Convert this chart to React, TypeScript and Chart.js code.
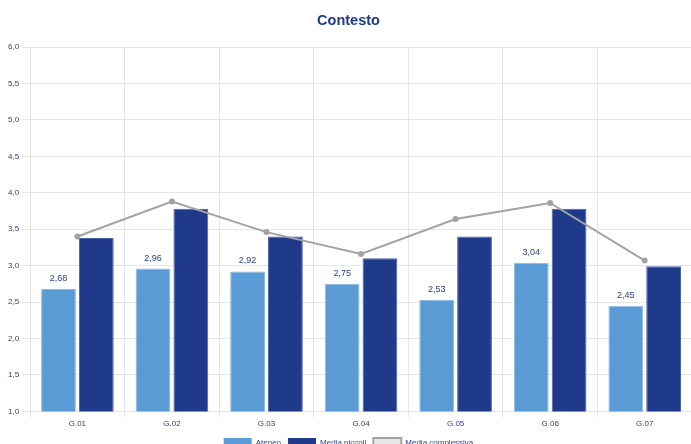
import React, { useEffect, useRef } from "react";
import { Chart, registerables } from "chart.js";

Chart.register(...registerables);

const categories = ["G.01", "G.02", "G.03", "G.04", "G.05", "G.06", "G.07"];
const ateneo = [2.68, 2.96, 2.92, 2.75, 2.53, 3.04, 2.45];
const mediaPiccoli = [3.38, 3.78, 3.4, 3.1, 3.4, 3.78, 2.99];
const mediaComplessiva = [3.4, 3.88, 3.46, 3.16, 3.64, 3.86, 3.07];

const FONT = "'Liberation Sans', Arial, sans-serif";
const fmt = (v: number, d: number) => v.toFixed(d).replace(".", ",");

const labelPlugin = {
  id: "ateneoLabels",
  afterDatasetsDraw(chart: any) {
    const meta = chart.getDatasetMeta(1);
    const ctx = chart.ctx;
    ctx.save();
    ctx.font = "9px " + FONT;
    ctx.fillStyle = "#2a3f85";
    ctx.textAlign = "center";
    ctx.textBaseline = "bottom";
    meta.data.forEach((el: any, i: number) => {
      ctx.fillText(fmt(ateneo[i], 2), el.x, el.y - 6);
    });
    ctx.restore();
  },
};

export default function App() {
  const ref = useRef<HTMLCanvasElement>(null);
  useEffect(() => {
    if (!ref.current) return;
    const chart = new Chart(ref.current, {
      type: "bar",
      data: {
        labels: categories,
        datasets: [
          {
            type: "line",
            label: "Media complessiva",
            data: mediaComplessiva,
            borderColor: "#a3a3a3",
            backgroundColor: "#e6e6e6",
            borderWidth: 2,
            pointRadius: 2,
            pointBackgroundColor: "#a3a3a3",
            pointBorderColor: "#a3a3a3",
            order: 0,
          } as any,
          {
            label: "Ateneo",
            data: ateneo,
            backgroundColor: "#5b9bd5",
            borderColor: "#8fbbe6",
            borderWidth: 1,
            order: 1,
          },
          {
            label: "Media piccoli",
            data: mediaPiccoli,
            backgroundColor: "#1f3a8a",
            borderColor: "#4a62a8",
            borderWidth: 1,
            order: 2,
          },
        ],
      },
      options: {
        animation: false,
        responsive: false,
        maintainAspectRatio: false,
        layout: { padding: { left: 5, right: 14, top: 0, bottom: 0 } },
        datasets: { bar: { categoryPercentage: 0.8, barPercentage: 0.92 } } as any,
        plugins: {
          title: {
            display: true,
            text: "Contesto",
            color: "#1f3a8a",
            font: { family: FONT, size: 14.5, weight: "bold" },
            padding: { top: 12, bottom: 17.6 },
          },
          legend: {
            position: "bottom",
            labels: {
              color: "#2a3f85",
              font: { family: FONT, size: 8 },
              boxWidth: 28,
              boxHeight: 10,
              padding: 7,
              generateLabels: (chart: any) => {
                const ds = chart.data.datasets;
                const order = [1, 2, 0];
                return order.map((i) => ({
                  text: ds[i].label,
                  fillStyle: i === 0 ? "#e6e6e6" : ds[i].backgroundColor,
                  strokeStyle: i === 0 ? "#a3a3a3" : ds[i].backgroundColor,
                  lineWidth: i === 0 ? 2 : 0,
                  datasetIndex: i,
                  hidden: false,
                  fontColor: "#2a3f85",
                }));
              },
            },
          },
          tooltip: { enabled: false },
        },
        scales: {
          x: {
            grid: { color: "#e6e6e6", offset: true, tickLength: 6 },
            border: { color: "#e6e6e6" },
            ticks: {
              color: "#2a3f85",
              font: { family: FONT, size: 8 },
              padding: 2,
            },
          },
          y: {
            min: 1,
            max: 6,
            grid: { color: "#e6e6e6", tickLength: 8 },
            border: { color: "#e6e6e6" },
            ticks: {
              stepSize: 0.5,
              color: "#2a3f85",
              font: { family: FONT, size: 8 },
              padding: 3,
              callback: (v: any) => fmt(Number(v), 1),
            },
          },
        },
      },
      plugins: [labelPlugin],
    });
    return () => chart.destroy();
  }, []);
  return (
    <div style={{ position: "fixed", left: 0, top: 0, width: 706, height: 458 }}>
      <canvas ref={ref} width={706} height={458} style={{ width: 706, height: 458 }} />
    </div>
  );
}
